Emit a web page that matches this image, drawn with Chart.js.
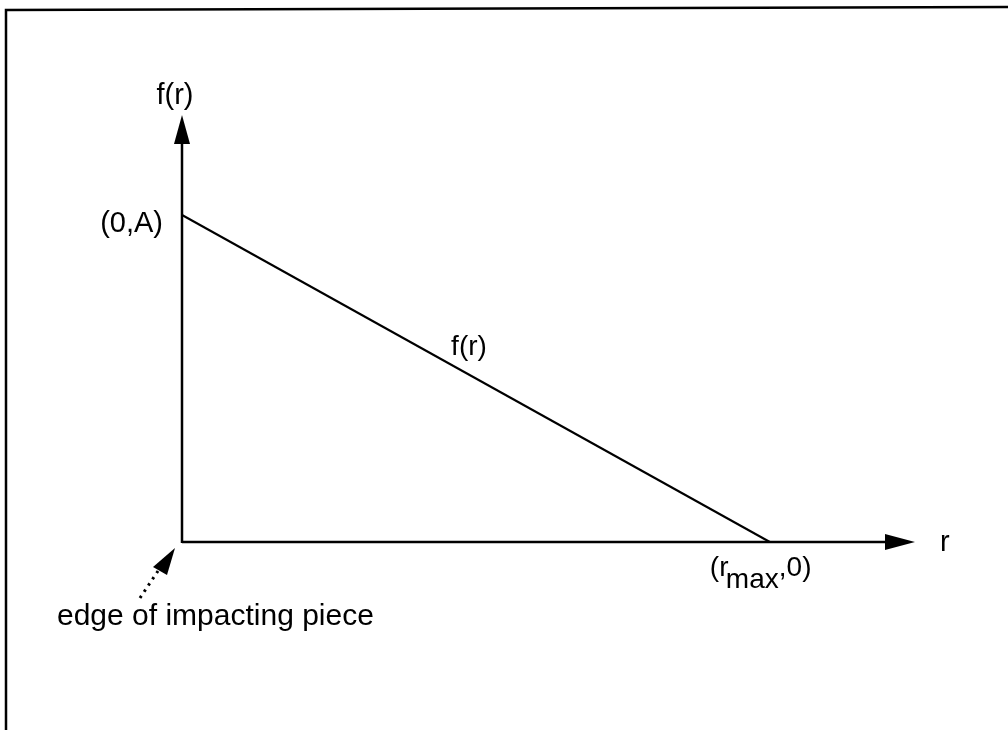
<!DOCTYPE html>
<html>
<head>
<meta charset="utf-8">
<script src="https://cdn.jsdelivr.net/npm/chart.js@4"></script>
<style>
  html, body { margin: 0; padding: 0; background: #ffffff; }
  #wrap { width: 1008px; height: 730px; position: relative; }
  canvas { display: block; }
</style>
</head>
<body>
<div id="wrap"><canvas id="c" width="1008" height="730"></canvas></div>
<script>
// ---- data ----
const rValues = [0, 1];          // r: 0 and r_max (normalised)
const fValues = [1, 0];          // f(r): A at r=0, 0 at r_max
const axisMax = [1.247, 1.306];  // extent of the r and f(r) axes (arrow tips)
const axisNames = ['r', 'f(r)'];
const pointLabels = ['(0,A)', '(r', 'max', ',0)'];
const lineLabel = 'f(r)';
const noteText = 'edge of impacting piece';

const FONT = '"Liberation Sans", Arial, Helvetica, sans-serif';

const diagramPlugin = {
  id: 'diagram',
  afterDatasetsDraw(chart) {
    const ctx = chart.ctx;
    const xs = chart.scales.x, ys = chart.scales.y;
    const x0 = xs.getPixelForValue(0), y0 = ys.getPixelForValue(0);
    const xTip = xs.getPixelForValue(axisMax[0]);
    const yTip = ys.getPixelForValue(axisMax[1]);
    const xr = xs.getPixelForValue(rValues[1]);
    const yA = ys.getPixelForValue(fValues[0]);
    ctx.save();
    ctx.strokeStyle = '#000'; ctx.fillStyle = '#000';
    // frame (top and left edges of the scanned box)
    ctx.lineWidth = 2.5;
    ctx.beginPath();
    ctx.moveTo(6, 731); ctx.lineTo(6, 10); ctx.lineTo(1008, 7);
    ctx.stroke();
    // axes
    ctx.lineWidth = 2.5;
    ctx.beginPath();
    ctx.moveTo(x0, y0); ctx.lineTo(xTip - 25, y0);
    ctx.moveTo(x0, y0 + 1); ctx.lineTo(x0, yTip + 25);
    ctx.stroke();
    // arrowheads
    ctx.beginPath();
    ctx.moveTo(xTip, y0); ctx.lineTo(xTip - 30, y0 - 8); ctx.lineTo(xTip - 30, y0 + 8); ctx.closePath();
    ctx.fill();
    ctx.beginPath();
    ctx.moveTo(x0, yTip); ctx.lineTo(x0 - 8, yTip + 29); ctx.lineTo(x0 + 8, yTip + 29); ctx.closePath();
    ctx.fill();
    // dotted pointer to the origin
    ctx.lineWidth = 3;
    ctx.setLineDash([2.5, 5]);
    ctx.beginPath();
    ctx.moveTo(140, 598); ctx.lineTo(158, 571);
    ctx.stroke();
    ctx.setLineDash([]);
    ctx.beginPath();
    ctx.moveTo(x0 - 7, y0 + 6); ctx.lineTo(153, 567); ctx.lineTo(167, 575); ctx.closePath();
    ctx.fill();
    // texts
    ctx.textBaseline = 'alphabetic';
    ctx.font = '29px ' + FONT;
    ctx.textAlign = 'center';
    ctx.fillText(axisNames[1], x0 - 7, 104);
    ctx.textAlign = 'left';
    ctx.fillText(axisNames[0], xTip + 25, y0 + 9);
    ctx.textAlign = 'right';
    ctx.fillText(pointLabels[0], x0 - 19, yA + 17);
    ctx.textAlign = 'center';
    ctx.font = '28px ' + FONT;
    ctx.fillText(lineLabel, 469, 355);
    // (r_max,0)
    ctx.textAlign = 'left';
    ctx.font = '28px ' + FONT;
    ctx.fillText(pointLabels[1], xr - 60, y0 + 34);
    ctx.fillText(pointLabels[2], xr - 44, y0 + 46);
    ctx.fillText(pointLabels[3], xr + 9, y0 + 34);
    // note
    ctx.font = '30px ' + FONT;
    ctx.fillText(noteText, 57, 625);
    ctx.restore();
  }
};

new Chart(document.getElementById('c'), {
  type: 'scatter',
  data: {
    datasets: [{
      label: lineLabel,
      data: rValues.map((r, i) => ({ x: r, y: fValues[i] })),
      showLine: true,
      borderColor: '#000',
      borderWidth: 2.2,
      pointRadius: 0,
      fill: false,
      tension: 0
    }]
  },
  options: {
    responsive: false,
    animation: false,
    layout: { padding: { left: 182, right: 93, top: 115, bottom: 188 } },
    plugins: { legend: { display: false }, tooltip: { enabled: false } },
    scales: {
      x: { type: 'linear', min: 0, max: axisMax[0], display: false },
      y: { type: 'linear', min: 0, max: axisMax[1], display: false }
    }
  },
  plugins: [diagramPlugin]
});
</script>
</body>
</html>
